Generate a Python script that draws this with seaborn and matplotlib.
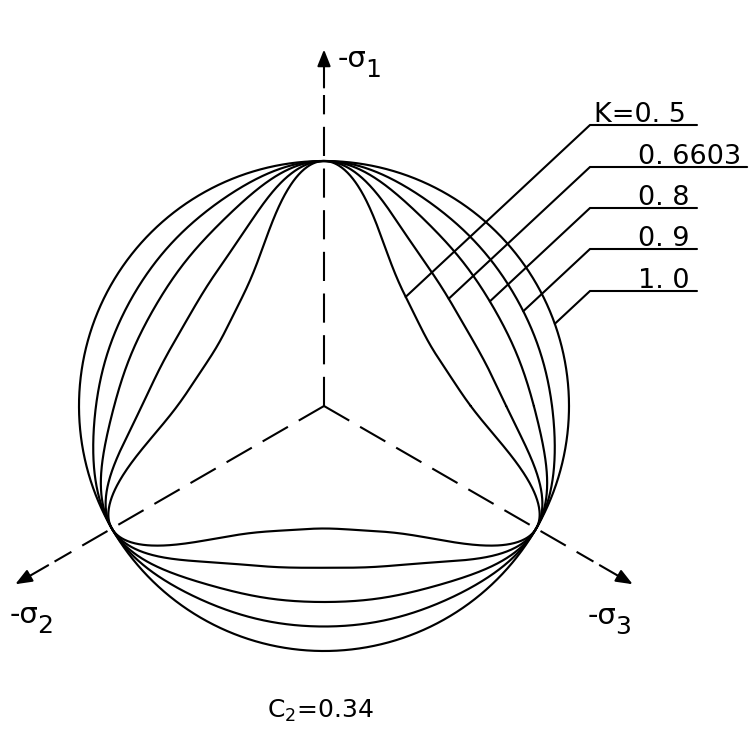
import numpy as np
import pandas as pd
import matplotlib
matplotlib.use("Agg")
import matplotlib.pyplot as plt
import seaborn as sns

# ---- data -------------------------------------------------------------
K_values = [0.5, 0.6603, 0.8, 0.9, 1.0]      # tensile / compressive radius ratio
C2 = 0.34                                    # shape parameter of the deviatoric section
axis_names = ["1", "2", "3"]                 # principal stress axes (-sigma_i)
axis_angles = [90.0, 210.0, 330.0]           # directions of the axes in the plane (deg)

# ---- layout (figure pixels, 750 x 740) --------------------------------
W, H = 750, 740
CX, CY, R = 324.0, 406.0, 245.0              # centre and radius of the K = 1 circle


def P(xp, yp):
    """pixel position -> data coordinates (unit radius = R pixels)"""
    return (xp - CX) / R, (CY - yp) / R


def section_radius(phi, K, c2):
    """radius of the deviatoric section; compressive meridians at 90/210/330 deg,
    radius 1 there and K on the tensile meridians"""
    c = np.cos(3.0 * (phi - np.pi / 2.0))
    h = 0.5 * (1.0 - c) * (1.0 + 0.5 * c2 * (1.0 + c) * (2.0 + c))
    return 1.0 / (1.0 + (1.0 / K - 1.0) * h)


sns.set_theme(style="white")
plt.rcParams["font.family"] = ["DejaVu Sans"]

fig = plt.figure(figsize=(W / 100, H / 100), dpi=100)
fig.patch.set_facecolor("white")
ax = fig.add_axes([0, 0, 1, 1])
x0, y0 = P(0, H)
x1, y1 = P(W, 0)
ax.set_xlim(x0, x1)
ax.set_ylim(y0, y1)
ax.axis("off")

# ---- yield-surface sections ------------------------------------------
phi = np.linspace(0, 2 * np.pi, 1441)
frames = []
for K in K_values:
    r = section_radius(phi, K, C2)
    frames.append(pd.DataFrame({"x": r * np.cos(phi), "y": r * np.sin(phi), "K": K}))
curves = pd.concat(frames, ignore_index=True)
sns.lineplot(data=curves, x="x", y="y", units="K", estimator=None, sort=False,
             color="black", lw=1.55, ax=ax, legend=False)

# ---- dashed principal axes with arrows --------------------------------
dash_end, shaft_start, tip = 1.27, 1.30, 1.455
for ang in axis_angles:
    a = np.deg2rad(ang)
    ux, uy = np.cos(a), np.sin(a)
    ax.plot([0, dash_end * ux], [0, dash_end * uy], color="black", lw=1.5,
            linestyle=(0, (14, 6)), solid_capstyle="butt")
    ax.annotate("", xy=(tip * ux, tip * uy), xytext=(shaft_start * ux, shaft_start * uy),
                arrowprops=dict(arrowstyle="-|>,head_length=0.5,head_width=0.2",
                                color="black", lw=1.5, mutation_scale=20,
                                shrinkA=0, shrinkB=0))

# ---- axis names: "-σ" followed by a lowered index --------------------
renderer = fig.canvas.get_renderer()
name_pos = {"1": (338, 67), "2": (10, 623), "3": (588, 624)}
for name in axis_names:
    xp, yp = name_pos[name]
    t = ax.text(*P(xp, yp), "-σ", fontsize=21, color="black", ha="left", va="baseline")
    bb = t.get_window_extent(renderer)
    xd, _ = ax.transData.inverted().transform((bb.x1 - 2, 0))
    ax.text(xd, P(0, yp + 10)[1], name, fontsize=18, color="black",
            ha="left", va="baseline")

# ---- K labels with underline and leader --------------------------------
under_y = [125, 167, 208, 249, 291]
lead_x, under_end = 590, 697
lead_ang = np.deg2rad(43.0)
for i, K in enumerate(K_values):
    txt = str(K).replace(".", ". ")
    if i == 0:
        t = ax.text(*P(594, under_y[i] - 3), "K=" + txt, fontsize=19.5,
                    ha="left", va="baseline", color="black")
    else:
        t = ax.text(*P(638, under_y[i] - 3), txt, fontsize=19.5,
                    ha="left", va="baseline", color="black")
    bb = t.get_window_extent(renderer)
    end_px = max(under_end, bb.x1 + 6)
    ux0, uy0 = P(lead_x, under_y[i])
    ux1, _ = P(end_px, under_y[i])
    # leader runs down-left until it meets its own section
    s = np.linspace(0, 2.0, 8001)
    lx = ux0 - s * np.cos(lead_ang)
    ly = uy0 - s * np.sin(lead_ang)
    inside = np.hypot(lx, ly) <= section_radius(np.arctan2(ly, lx), K, C2)
    j = int(np.argmax(inside))
    ax.plot([lx[j], ux0, ux1], [ly[j], uy0, uy0], color="black", lw=1.5,
            solid_joinstyle="miter")

# ---- parameter note ---------------------------------------------------
ax.text(*P(320, 718), r"C$_2$=0.34", fontsize=18, ha="center", va="baseline",
        color="black")

fig.savefig("out.png", dpi=100, facecolor="white")
